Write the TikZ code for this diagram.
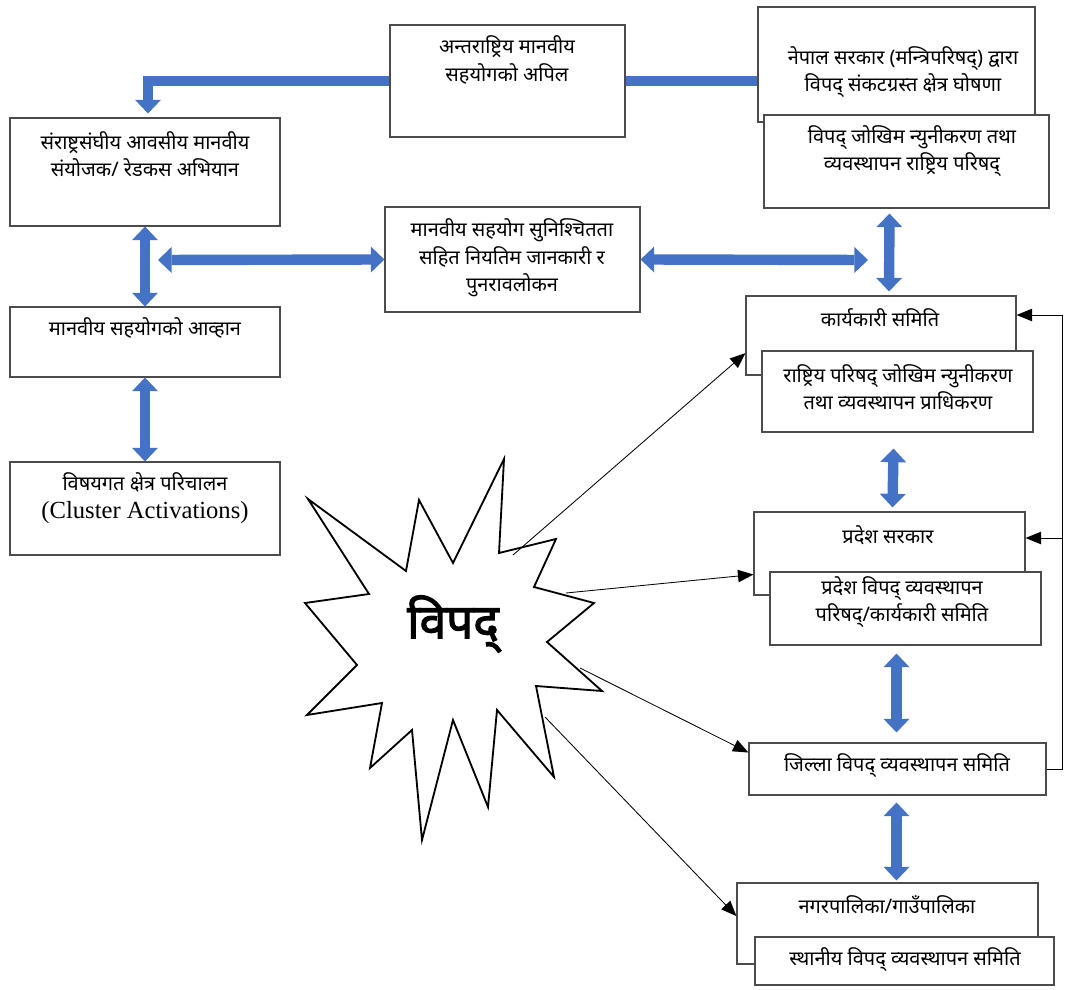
\documentclass[tikz,border=0pt]{standalone}
\usepackage{fontspec}
\setmainfont{Liberation Serif}
\newfontfamily\deva[Script=Devanagari]{Noto Sans}
\newfontfamily\devabold[Script=Devanagari,FakeBold=2.5]{Noto Sans}
\usetikzlibrary{arrows.meta,calc,fit,positioning}
\definecolor{flowblue}{RGB}{68,114,196}

\begin{document}
\begin{tikzpicture}[x=0.025cm,y=-0.025cm,
  box/.style={draw=black!70,line width=0.8pt,fill=white,inner sep=0pt},
  txt/.style={font=\deva\fontsize{14.2}{19.6}\selectfont,align=center,inner sep=0pt},
  bluehead/.tip={Triangle[width=6.5mm,length=3.4mm,line width=0pt]},
  bluebar/.style={draw=flowblue,line width=2.6mm},
  bluearr/.style={bluebar,-bluehead},
  bluedbl/.style={bluebar,bluehead-bluehead},
  thinarr/.style={draw=black,line width=0.6pt,-{Triangle[width=9pt,length=11pt,line width=0pt]}}]
  \useasboundingbox (0,0) rectangle (1065,990);
  % left column
  \node[box,fit={(10,118) (280,226)}] (D) {};
  \node[txt] (Dt) at (145,154) {संराष्ट्रसंघीय आवसीय मानवीय\\संयोजक/ रेडकस अभियान};
  \node[box,fit={(10,307) (280,377)}] (F) {};
  \node[txt] (Ft) at (145,328) {मानवीय सहयोगको आव्हान};
  \node[box,fit={(10,462) (280,555)}] (G) {};
  \node[txt] (Gt) at (145,482) {विषयगत क्षेत्र परिचालन};
  \node[inner sep=0pt,font=\fontsize{17.5}{20}\selectfont] (Gc) at (145,513) {(Cluster Activations)};
  % middle column
  \node[box,fit={(390,25) (625,137)}] (A) {};
  \node[txt] (At) at (507,60) {अन्तराष्ट्रिय मानवीय\\सहयोगको अपिल};
  \node[box,fit={(385,207) (640,312)}] (E) {};
  \node[txt] (Et) at (512,258) {मानवीय सहयोग सुनिश्चितता\\सहित नियतिम जानकारी र\\पुनरावलोकन};
  % right column
  \node[box,fit={(758,7) (1035,122)}] (B) {};
  \node[txt] (Bt) at (903,72) {नेपाल सरकार (मन्त्रिपरिषद्) द्वारा\\विपद् संकटग्रस्त क्षेत्र घोषणा};
  \node[box,fit={(764,115) (1049,208)}] (C) {};
  \node[txt] (Ct) at (912,151) {विपद् जोखिम न्युनीकरण तथा\\व्यवस्थापन राष्ट्रिय परिषद्};
  \node[box,fit={(746,296) (1016,375)}] (H) {};
  \node[txt] (Ht) at (880,318) {कार्यकारी समिति};
  \node[box,fit={(762,351) (1033,432)}] (I) {};
  \node[txt] (It) at (898,387) {राष्ट्रिय परिषद् जोखिम न्युनीकरण\\तथा व्यवस्थापन प्राधिकरण};
  \node[box,fit={(754,512) (1025,595)}] (J) {};
  \node[txt] (Jt) at (888,535) {प्रदेश सरकार};
  \node[box,fit={(770,572) (1041,645)}] (K) {};
  \node[txt] (Kt) at (902,602) {प्रदेश विपद् व्यवस्थापन\\परिषद्/कार्यकारी समिति};
  \node[box,fit={(749,743) (1046,795)}] (L) {};
  \node[txt] (Lt) at (897,766) {जिल्ला विपद् व्यवस्थापन समिति};
  \node[box,fit={(737,883) (1038,964)}] (M) {};
  \node[txt] (Mt) at (887,905) {नगरपालिका/गाउँपालिका};
  \node[box,fit={(755,937) (1054,985)}] (N) {};
  \node[txt] (Nt) at (905,960) {स्थानीय विपद् व्यवस्थापन समिति};
  % the star
  \draw[line width=1.3pt,fill=white] (308,499) -- (406,571) -- (419,500) -- (453,563) -- (504,459)
    -- (499,553) -- (556,539) -- (534,587) -- (594,603) -- (547,642) -- (602,691) -- (536,686)
    -- (554,777) -- (497,710) -- (488,807) -- (453,720) -- (422,840) -- (412,730) -- (370,768)
    -- (382,703) -- (307,715) -- (357,665) -- (305,603) -- (369,594) -- cycle;
  \node[font=\devabold\fontsize{34}{40}\selectfont,inner sep=0pt] (S) at (453,624) {विपद्};
  \coordinate (s1) at (513,555);
  \coordinate (s2) at (566,593);
  \coordinate (s3) at (580,668);
  \coordinate (s4) at (545,717);
  % blue arrows
  \coordinate (hl) at (158,260);
  \coordinate (hr) at (868,260);
  \draw[bluearr] (A.west) -| ($(D.north)+(3,-4)$);
  \draw[bluebar] (A.east) -- (A.east -| B.west);
  \draw[bluedbl] (D.south) -- (F.north);
  \draw[bluedbl] (F.south) -- (G.north);
  \draw[bluedbl] (hl) -- (E.west);
  \draw[bluedbl] (E.east) -- (hr);
  \draw[bluedbl] ($(C.south)+(-17,5)$) -- ($(H.north)+(8,-4)$);
  \draw[bluedbl] ($(I.south)+(-4,16)$) -- ($(J.north)+(3,-4)$);
  \draw[bluedbl] ($(K.south)+(-9,8)$) -- ($(L.north)+(-1,-10)$);
  \draw[bluedbl] ($(L.south)+(-1,7)$) -- ($(M.north)+(9,-2)$);
  % thin arrows
  \draw[thinarr] (s1) -- ($(H.north west)!0.72!(H.south west)$);
  \draw[thinarr] (s2) -- ($(J.north west)!0.75!(J.south west)$);
  \draw[thinarr] (s3) -- ($(L.north west)!0.19!(L.south west)$);
  \draw[thinarr] (s4) -- ($(M.north west)!0.41!(M.south west)$);
  \coordinate (fb) at (1062,315);
  \coordinate (fb2) at (1062,538);
  \draw[thinarr] (L.east) -| (fb) -- (fb -| H.east);
  \draw[thinarr] (fb2) -- (fb2 -| J.east);
\end{tikzpicture}
\end{document}
